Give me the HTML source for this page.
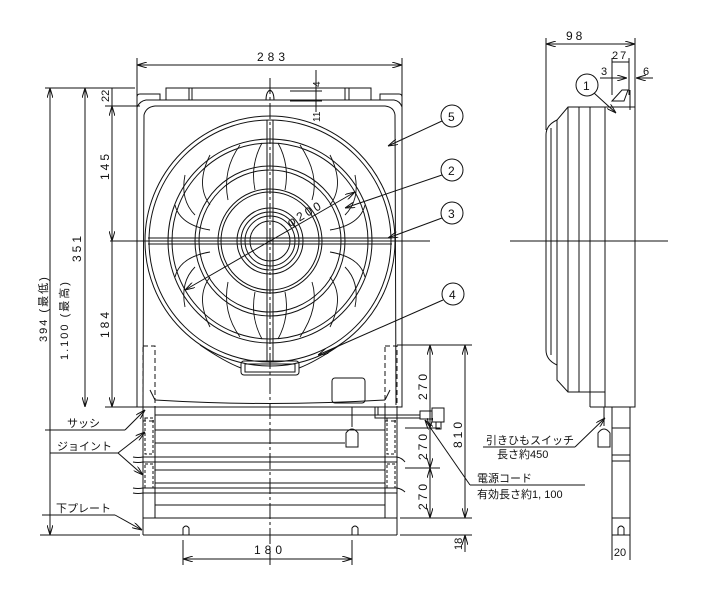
<!DOCTYPE html>
<html><head><meta charset="utf-8"><style>
html,body{margin:0;padding:0;background:#fff;}
svg{display:block}
text{font-family:"Liberation Sans","Noto Sans CJK JP",sans-serif;fill:#111;}
</style></head><body>
<svg width="705" height="601" viewBox="0 0 705 601" xmlns="http://www.w3.org/2000/svg">
<defs>
<marker id="a" viewBox="0 0 10 6" refX="10" refY="3" markerWidth="10" markerHeight="6" orient="auto-start-reverse"><path d="M0,0 L10,3 L0,6" fill="none" stroke="#111" stroke-width="1"/></marker>
</defs>
<g fill="none" stroke="#111" stroke-width="1">
<line x1="137" y1="58" x2="137" y2="100"/><line x1="402" y1="58" x2="402" y2="100"/>
<line x1="137" y1="65" x2="402" y2="65" marker-start="url(#a)" marker-end="url(#a)"/>
<line x1="45" y1="88" x2="135" y2="88"/>
<line x1="105" y1="106" x2="140" y2="106"/>
<line x1="105" y1="407" x2="140" y2="407"/>
<line x1="40" y1="535" x2="140" y2="535"/>
<line x1="50" y1="88" x2="50" y2="535" marker-start="url(#a)" marker-end="url(#a)"/>
<line x1="85" y1="88" x2="85" y2="407" marker-start="url(#a)" marker-end="url(#a)"/>
<line x1="112" y1="88" x2="112" y2="106"/>
<line x1="112" y1="106" x2="112" y2="241" marker-start="url(#a)" marker-end="url(#a)"/>
<line x1="112" y1="241" x2="112" y2="407" marker-end="url(#a)"/>
<line x1="316" y1="70" x2="316" y2="112"/><line x1="290" y1="91" x2="322" y2="91"/><line x1="290" y1="101" x2="322" y2="101"/>
<line x1="110" y1="241" x2="430" y2="241"/>
<line x1="270" y1="78" x2="270" y2="565" stroke-dasharray="16,3,3,3"/>
<path d="M137,107 L137,97 Q137,94 140,94 L160,94 L160,100"/>
<path d="M402,107 L402,97 Q402,94 399,94 L380,94 L380,100"/>
<rect x="166" y="88" width="26" height="12"/><line x1="189" y1="88" x2="189" y2="100"/>
<rect x="347" y="88" width="26" height="12" transform="translate(-2,0)"/><line x1="349" y1="88" x2="349" y2="100"/>
<line x1="192" y1="88" x2="345" y2="88"/>
<path d="M266,100 Q266,92 270,90 Q274,92 274,100"/>
<path d="M137,107 Q140,101 146,100 L394,100 Q400,101 402,107 L402,407 L137,407 Z"/>
<path d="M143,405 Q144,300 144,115 Q146,107 155,106 L385,106 Q394,107 395,115 Q395,300 396,405"/>
<path d="M155,400 Q270,407 385,400"/>
<path d="M150,390 L155,400 M390,390 L385,400"/>
<circle cx="270" cy="241" r="125"/><circle cx="270" cy="241" r="121"/>
<circle cx="270" cy="241" r="102"/><circle cx="270" cy="241" r="98"/>
<circle cx="270" cy="241" r="75"/><circle cx="270" cy="241" r="71"/>
<circle cx="270" cy="241" r="52"/><circle cx="270" cy="241" r="49"/>
<circle cx="270" cy="241" r="33"/><circle cx="270" cy="241" r="29"/><circle cx="270" cy="241" r="25"/>
<circle cx="270" cy="241" r="20"/>
<line x1="267" y1="120" x2="267" y2="362"/><line x1="273" y1="120" x2="273" y2="362"/>
<line x1="148" y1="238" x2="392" y2="238"/><line x1="148" y1="244" x2="392" y2="244"/>
<g stroke-width="0.9">
<path d="M300,145 Q320,175 312,200"/><path d="M330,155 Q345,185 330,205"/><path d="M355,175 Q360,200 345,215"/>
<path d="M365,205 Q360,225 330,230"/><path d="M240,145 Q222,170 228,200"/><path d="M210,155 Q195,185 210,205"/>
<path d="M185,175 Q180,200 195,215"/><path d="M175,205 Q180,225 210,230"/>
<path d="M240,337 Q222,312 228,282"/><path d="M210,327 Q195,297 210,277"/><path d="M185,307 Q180,282 195,267"/>
<path d="M175,277 Q180,257 210,252"/><path d="M300,337 Q320,307 312,282"/><path d="M330,327 Q345,297 330,277"/>
<path d="M355,307 Q360,282 345,267"/><path d="M365,277 Q360,257 330,252"/>
<path d="M278,143 Q290,165 285,190"/><path d="M262,143 Q250,165 255,190"/>
<path d="M278,339 Q290,317 285,292"/><path d="M262,339 Q250,317 255,292"/>
</g>
<line x1="185" y1="290" x2="355" y2="192" marker-start="url(#a)" marker-end="url(#a)"/>
<rect x="241" y="361" width="58" height="14" rx="3"/><rect x="245" y="364" width="50" height="8"/>
<path d="M200,345 Q225,362 241,368 M340,345 Q315,362 299,368"/>
<rect x="332" y="378" width="33" height="25" rx="3"/>
<g stroke-dasharray="5,3"><rect x="143" y="346" width="12" height="75"/><rect x="385" y="346" width="12" height="75"/></g>
<line x1="143" y1="407" x2="143" y2="535"/><line x1="397" y1="407" x2="397" y2="535"/>
<line x1="155" y1="407" x2="155" y2="518"/><line x1="385" y1="407" x2="385" y2="518"/>
<g>
<line x1="155" y1="415" x2="385" y2="415"/><line x1="155" y1="430" x2="385" y2="430"/>
<line x1="155" y1="443" x2="345" y2="443"/>
<path d="M133,457 Q138,458 143,457 L397,457 Q402,458 405,462"/><path d="M133,462 Q138,463 143,462 L397,462"/>
<line x1="155" y1="470" x2="385" y2="470"/><line x1="155" y1="483" x2="385" y2="483"/>
<path d="M133,488 Q138,489 143,488 L397,488 Q402,489 405,492"/><path d="M133,493 Q138,494 143,493 L397,493"/>
<line x1="155" y1="505" x2="385" y2="505"/><line x1="143" y1="518" x2="397" y2="518"/>
<line x1="143" y1="535" x2="397" y2="535"/>
</g>
<g stroke-dasharray="3,2"><rect x="145" y="418" width="8" height="36"/><rect x="145" y="464" width="8" height="24"/><rect x="387" y="418" width="8" height="36"/><rect x="387" y="464" width="8" height="24"/></g>
<path d="M183,535 L183,528 Q186,524 189,528 L189,535"/><path d="M352,535 L352,528 Q355,524 358,528 L358,535"/>
<line x1="352" y1="407" x2="352" y2="427"/><path d="M346,447 L346,433 Q352,425 358,433 L358,447 Z"/>
<path d="M375,407 L375,418 L420,418 M378,407 L378,415 L420,415"/><rect x="420" y="411" width="12" height="8"/><rect x="432" y="408" width="12" height="14"/><rect x="436" y="422" width="5" height="7"/>
<line x1="183" y1="540" x2="183" y2="565"/><line x1="352" y1="540" x2="352" y2="565"/>
<line x1="183" y1="559" x2="352" y2="559" marker-start="url(#a)" marker-end="url(#a)"/>
<line x1="397" y1="345" x2="472" y2="345"/><line x1="405" y1="428" x2="440" y2="428"/><line x1="405" y1="468" x2="440" y2="468"/>
<line x1="400" y1="518" x2="472" y2="518"/><line x1="400" y1="535" x2="472" y2="535"/>
<line x1="430" y1="345" x2="430" y2="428" marker-start="url(#a)" marker-end="url(#a)"/>
<line x1="430" y1="428" x2="430" y2="468" marker-end="url(#a)"/>
<line x1="430" y1="468" x2="430" y2="518" marker-start="url(#a)" marker-end="url(#a)"/>
<line x1="465" y1="345" x2="465" y2="518" marker-start="url(#a)" marker-end="url(#a)"/>
<line x1="465" y1="535" x2="465" y2="552" marker-start="url(#a)"/>
<circle cx="452" cy="116" r="11"/><circle cx="452" cy="170" r="11"/><circle cx="452" cy="213" r="11"/><circle cx="453" cy="294" r="11"/><circle cx="587" cy="85" r="11"/>
<line x1="442" y1="121" x2="388" y2="146" marker-end="url(#a)"/>
<line x1="442" y1="175" x2="345" y2="208" marker-end="url(#a)"/>
<line x1="442" y1="218" x2="388" y2="238" marker-end="url(#a)"/>
<line x1="443" y1="300" x2="318" y2="355" marker-end="url(#a)"/>
<line x1="594" y1="93" x2="616" y2="113" marker-end="url(#a)"/>
<line x1="45" y1="430" x2="125" y2="430"/><line x1="125" y1="430" x2="145" y2="410" marker-end="url(#a)"/>
<line x1="50" y1="453" x2="118" y2="453"/><line x1="118" y1="453" x2="145" y2="432" marker-end="url(#a)"/><line x1="118" y1="453" x2="143" y2="475" marker-end="url(#a)"/>
<line x1="42" y1="515" x2="115" y2="515"/><line x1="115" y1="515" x2="142" y2="530" marker-end="url(#a)"/>
<line x1="470" y1="485" x2="585" y2="485"/><line x1="470" y1="485" x2="425" y2="420" marker-end="url(#a)"/>
<line x1="483" y1="447" x2="575" y2="447"/><line x1="575" y1="447" x2="605" y2="418" marker-end="url(#a)"/>
<line x1="546" y1="38" x2="546" y2="130"/><line x1="635" y1="38" x2="635" y2="110"/>
<line x1="546" y1="44" x2="635" y2="44" marker-start="url(#a)" marker-end="url(#a)"/>
<line x1="612" y1="58" x2="612" y2="95"/><line x1="629" y1="58" x2="629" y2="95"/>
<line x1="612" y1="62" x2="629" y2="62"/>
<line x1="600" y1="78" x2="627" y2="78" marker-end="url(#a)"/><line x1="653" y1="78" x2="636" y2="78" marker-end="url(#a)"/>
<path d="M612,101 L622,90 L628,90 L624,101 Z"/><line x1="630" y1="90" x2="630" y2="110"/>
<line x1="510" y1="241" x2="668" y2="241"/>
<path d="M568,107 L605,107 L605,392 L568,392 L557,380 L557,120 Z"/>
<path d="M557,120 Q546,125 546,135 L546,350 Q546,360 557,365"/>
<line x1="551" y1="128" x2="551" y2="355"/>
<line x1="568" y1="107" x2="568" y2="392"/><line x1="579" y1="107" x2="579" y2="392"/><line x1="590" y1="107" x2="590" y2="407"/>
<rect x="605" y="107" width="30" height="300"/>
<line x1="590" y1="407" x2="605" y2="407"/>
<line x1="612" y1="407" x2="612" y2="535"/><line x1="630" y1="407" x2="630" y2="535"/>
<line x1="612" y1="428" x2="630" y2="428"/><line x1="612" y1="455" x2="630" y2="455"/><line x1="612" y1="461" x2="630" y2="461"/><line x1="612" y1="518" x2="630" y2="518"/>
<line x1="612" y1="535" x2="630" y2="535"/>
<path d="M618,535 L618,528 Q621,524 624,528 L624,535"/>
<line x1="612" y1="535" x2="612" y2="560"/><line x1="630" y1="535" x2="630" y2="560"/>
<line x1="604" y1="407" x2="604" y2="426"/><path d="M598,447 L598,433 Q604,425 610,433 L610,447 Z"/>
</g>
<g font-size="12">
<text x="257" y="61" letter-spacing="4">283</text>
<text x="270" y="554" text-anchor="middle" letter-spacing="4">180</text>
<text x="566" y="40" letter-spacing="3">98</text>
<text x="612" y="59" font-size="11" letter-spacing="2">27</text>
<text x="601" y="75" font-size="11">3</text>
<text x="643" y="75" font-size="11">6</text>
<text x="448" y="121">5</text><text x="448" y="175">2</text><text x="448" y="218">3</text><text x="449" y="299">4</text><text x="583" y="90">1</text>
<text transform="translate(109,102) rotate(-90)" font-size="11">22</text>
<text transform="translate(109,180) rotate(-90)" letter-spacing="3">145</text>
<text transform="translate(109,338) rotate(-90)" letter-spacing="3">184</text>
<text transform="translate(81,262) rotate(-90)" letter-spacing="3">351</text>
<text transform="translate(68,360) rotate(-90)" font-size="11" letter-spacing="2">1.100 (最高)</text>
<text transform="translate(47,342) rotate(-90)" font-size="11" letter-spacing="2">394 (最低)</text>
<text transform="translate(320,87) rotate(-90)" font-size="10">4</text>
<text transform="translate(320,122) rotate(-90)" font-size="10">11</text>
<text transform="translate(427,400) rotate(-90)" letter-spacing="3">270</text>
<text transform="translate(427,460) rotate(-90)" letter-spacing="3">270</text>
<text transform="translate(427,510) rotate(-90)" letter-spacing="3">270</text>
<text transform="translate(462,448) rotate(-90)" letter-spacing="3">810</text>
<text transform="translate(462,550) rotate(-90)" font-size="11">18</text>
<text transform="translate(290,227) rotate(-30)" letter-spacing="3">φ200</text>
<text x="620" y="556" font-size="11" text-anchor="middle">20</text>
</g>
<g font-size="11">
<text x="67" y="427">サッシ</text>
<text x="57" y="450">ジョイント</text>
<text x="56" y="512">下プレート</text>
<text x="486" y="444">引きひもスイッチ</text>
<text x="497" y="458">長さ約450</text>
<text x="477" y="482">電源コード</text>
<text x="477" y="498">有効長さ約1, 100</text>
</g>
</svg>
</body></html>
